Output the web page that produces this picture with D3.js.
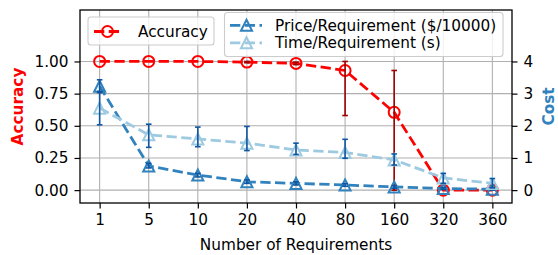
<!DOCTYPE html>
<html><head><meta charset="utf-8">
<script src="https://cdn.jsdelivr.net/npm/d3@7"></script>
<style>body{margin:0;background:#fff}svg{display:block}text{font-family:"DejaVu Sans",sans-serif}</style>
</head><body>
<script>
const categories = ["1","5","10","20","40","80","160","320","360"];
const accuracy = [1.0, 1.0, 1.0, 0.995, 0.985, 0.93, 0.605, 0.0, 0.0];
const accLo    = [1.0, 1.0, 1.0, 0.99, 0.975, 0.58, 0.0, 0.0, 0.0];
const accHi    = [1.0, 1.0, 1.0, 1.0, 0.995, 1.0, 0.93, 0.0, 0.0];
const price    = [3.23, 0.75, 0.47, 0.26, 0.21, 0.16, 0.10, 0.05, 0.03];
const priceLo  = [3.03, 0.69, 0.41, 0.21, 0.16, 0.12, 0.06, 0.02, 0.0];
const priceHi  = [3.43, 0.83, 0.52, 0.32, 0.26, 0.20, 0.14, 0.08, 0.06];
const time     = [2.55, 1.72, 1.59, 1.46, 1.25, 1.17, 0.94, 0.38, 0.21];
const timeLo   = [2.03, 1.33, 1.35, 1.23, 1.11, 0.99, 0.78, 0.21, 0.07];
const timeHi   = [3.07, 2.05, 1.96, 1.98, 1.46, 1.58, 1.125, 0.52, 0.36];
const accTicks = [0, 0.25, 0.5, 0.75, 1.0];
const costTicks = [0, 1, 2, 3, 4];

const W = 558, H = 255;
const L = 80, R = 512, T = 10, B = 203;
const FS = 15.3;
const RED = "#ff0000", DARKRED = "#a00000";
const BLUE = "#3182bd", LIGHT = "#9ecae1", EBLUE = "#0f56a0";

const svg = d3.select("body").append("svg").attr("width", W).attr("height", H);
const x = d3.scaleLinear().domain([-0.4, 8.4]).range([L, R]);
const yA = d3.scaleLinear().domain([-0.1, 1.4]).range([B, T]);
const yC = d3.scaleLinear().domain([-0.4, 5.6]).range([B, T]);
const idx = d3.range(categories.length);

// grid
const g = svg.append("g");
g.selectAll(".gx").data(idx).join("line")
  .attr("x1", d => x(d)).attr("x2", d => x(d)).attr("y1", T).attr("y2", B)
  .attr("stroke", "#b0b0b0").attr("stroke-width", 1.1);
g.selectAll(".gy").data(accTicks).join("line")
  .attr("x1", L).attr("x2", R).attr("y1", d => yA(d)).attr("y2", d => yA(d))
  .attr("stroke", "#b0b0b0").attr("stroke-width", 1.1);

const dash = "10.3,4.45";
function triPath(r){ return `M0,${-r}L${-r},${r}L${r},${r}Z`; }

function series(vals, lo, hi, y, color, ecolor, marker){
  const grp = svg.append("g");
  grp.append("path").datum(idx)
    .attr("d", d3.line().x(i => x(i)).y(i => y(vals[i])))
    .attr("fill", "none").attr("stroke", color).attr("stroke-width", 2.78)
    .attr("stroke-dasharray", dash);
  idx.forEach(i => {
    if (marker === "o") {
      grp.append("circle").attr("cx", x(i)).attr("cy", y(vals[i])).attr("r", 5.5)
        .attr("fill", "none").attr("stroke", color).attr("stroke-width", 2);
    } else {
      grp.append("path").attr("d", triPath(5.55))
        .attr("transform", `translate(${x(i)},${y(vals[i])})`)
        .attr("fill", "none").attr("stroke", color).attr("stroke-width", 2).attr("stroke-linejoin","miter");
    }
  });
  idx.forEach(i => {
    if (hi[i] - lo[i] <= 0) return;
    const xi = x(i);
    grp.append("line").attr("x1", xi).attr("x2", xi).attr("y1", y(lo[i])).attr("y2", y(hi[i]))
      .attr("stroke", ecolor).attr("stroke-width", 1.6);
    [lo[i], hi[i]].forEach(v => grp.append("line")
      .attr("x1", xi - 2.8).attr("x2", xi + 2.8).attr("y1", y(v)).attr("y2", y(v))
      .attr("stroke", ecolor).attr("stroke-width", 1.6));
  });
}

series(accuracy, accLo, accHi, yA, RED, DARKRED, "o");

// legend 1
const lg1 = svg.append("g");
lg1.append("rect").attr("x", 88).attr("y", 17).attr("width", 126).attr("height", 28).attr("rx", 3)
  .attr("fill", "rgba(255,255,255,0.8)").attr("stroke", "#cccccc").attr("stroke-width", 1.1);
lg1.append("line").attr("x1", 94).attr("x2", 121).attr("y1", 31.5).attr("y2", 31.5)
  .attr("stroke", RED).attr("stroke-width", 2.78).attr("stroke-dasharray", dash);
lg1.append("circle").attr("cx", 107.5).attr("cy", 31.5).attr("r", 5.5)
  .attr("fill", "none").attr("stroke", RED).attr("stroke-width", 2);
lg1.append("text").attr("x", 138).attr("y", 37).attr("font-size", FS).text("Accuracy");

series(price, priceLo, priceHi, yC, BLUE, EBLUE, "^");
series(time, timeLo, timeHi, yC, LIGHT, EBLUE, "^");

// legend 2
const lg2 = svg.append("g");
lg2.append("rect").attr("x", 224.5).attr("y", 12.5).attr("width", 278.5).attr("height", 44).attr("rx", 3)
  .attr("fill", "rgba(255,255,255,0.8)").attr("stroke", "#cccccc").attr("stroke-width", 1.1);
[["Price/Requirement ($/10000)", BLUE, 25.3], ["Time/Requirement (s)", LIGHT, 42.8]].forEach(([t, c, yy]) => {
  lg2.append("line").attr("x1", 230).attr("x2", 262).attr("y1", yy).attr("y2", yy)
    .attr("stroke", c).attr("stroke-width", 2.78).attr("stroke-dasharray", dash);
  lg2.append("path").attr("d", triPath(5.55)).attr("transform", `translate(246.5,${yy})`)
    .attr("fill", "none").attr("stroke", c).attr("stroke-width", 2);
  lg2.append("text").attr("x", 275).attr("y", yy + 5.5).attr("font-size", FS).text(t);
});

// axes
const axB = svg.append("g").attr("transform", `translate(0,${B})`)
  .call(d3.axisBottom(x).tickValues(idx).tickFormat(i => categories[i]).tickSize(5.5).tickPadding(6));
const axL = svg.append("g").attr("transform", `translate(${L},0)`)
  .call(d3.axisLeft(yA).tickValues(accTicks).tickFormat(d3.format(".2f")).tickSize(5.5).tickPadding(6));
const axR = svg.append("g").attr("transform", `translate(${R},0)`)
  .call(d3.axisRight(yC).tickValues(costTicks).tickFormat(d3.format("d")).tickSize(5.5).tickPadding(6));
[axB, axL, axR].forEach(a => {
  a.select(".domain").remove();
  a.selectAll(".tick line").attr("stroke", "#000").attr("stroke-width", 1.2);
  a.selectAll(".tick text").attr("font-size", FS).attr("font-family", "DejaVu Sans").attr("fill", "#000");
});
// spines
svg.append("rect").attr("x", L).attr("y", T).attr("width", R - L).attr("height", B - T)
  .attr("fill", "none").attr("stroke", "#000").attr("stroke-width", 1.3);

// labels
svg.append("text").attr("x", (L + R) / 2).attr("y", 250).attr("text-anchor", "middle")
  .attr("font-size", FS).text("Number of Requirements");
svg.append("text").attr("transform", `translate(23,${(T + B) / 2}) rotate(-90)`).attr("text-anchor", "middle")
  .attr("font-size", FS).attr("font-weight", "bold").attr("fill", RED).text("Accuracy");
svg.append("text").attr("transform", `translate(554,${(T + B) / 2}) rotate(-90)`).attr("text-anchor", "middle")
  .attr("font-size", FS).attr("font-weight", "bold").attr("fill", BLUE).text("Cost");
</script>
</body></html>
